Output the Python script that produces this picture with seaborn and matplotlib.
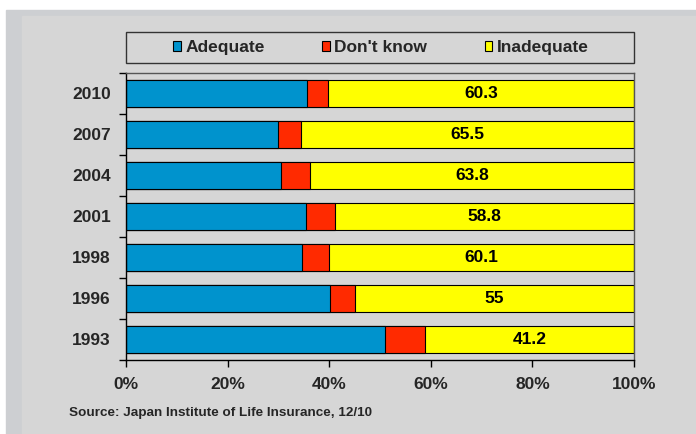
import matplotlib
matplotlib.use("Agg")
from matplotlib import pyplot as plt
from matplotlib.patches import Rectangle, Patch
import numpy as np
import pandas as pd
import seaborn as sns

years = ["2010", "2007", "2004", "2001", "1998", "1996", "1993"]
adequate = [35.6, 30.0, 30.6, 35.4, 34.6, 40.1, 50.9]
dont_know = [4.1, 4.5, 5.6, 5.8, 5.3, 4.9, 7.9]
inadequate = [60.3, 65.5, 63.8, 58.8, 60.1, 55, 41.2]
series = ["Adequate", "Don't know", "Inadequate"]
colors = ["#0093CD", "#FF2A00", "#FFFF00"]
x_ticks = [0, 20, 40, 60, 80, 100]
source = "Source: Japan Institute of Life Insurance, 12/10"

sns.set_theme(style="white")
plt.rcParams["font.family"] = ["Liberation Sans", "DejaVu Sans"]
plt.rcParams["font.weight"] = "bold"

df = pd.DataFrame({"year": years, "Adequate": adequate, "Don't know": dont_know, "Inadequate": inadequate})
df["c1"] = df["Adequate"]
df["c2"] = df["Adequate"] + df["Don't know"]
df["c3"] = df["c2"] + df["Inadequate"]

W, H = 696, 434
fig = plt.figure(figsize=(W / 100, H / 100), dpi=100, facecolor="white")
# grey backdrop like the slide
fig.patches.append(Rectangle((6 / W, 0), 1, 1 - 10 / H, transform=fig.transFigure, color="#cdcfd2", zorder=-3))
fig.patches.append(Rectangle((22 / W, 0), 1, 1 - 16 / H, transform=fig.transFigure, color="#d6d6d6", zorder=-2))

ax = fig.add_axes([126 / W, 1 - 360 / H, 508 / W, 287.3 / H])
ax.set_facecolor("#d6d6d6")

# stacked bars drawn as cumulative overlays
for col, color in zip(["c3", "c2", "c1"], colors[::-1]):
    sns.barplot(data=df, x=col, y="year", order=years, color=color, saturation=1,
                width=0.66, edgecolor="black", linewidth=0.8, ax=ax)

for i in range(len(years)):
    ax.text(df["c2"][i] + inadequate[i] / 2, i, f"{inadequate[i]:g}", ha="center", va="center",
            fontsize=12.5, fontweight="bold", color="black")

ax.set_xlim(0, 100)
ax.set_ylim(6.5, -0.5)
ax.set_xticks(x_ticks)
ax.set_xticklabels([f"{t}%" for t in x_ticks], fontsize=12.5, fontweight="bold")
ax.set_yticks(range(len(years)))
ax.set_yticklabels(years, fontsize=12.5, fontweight="bold")
ax.set_yticks(np.arange(-0.5, len(years), 1), minor=True)
ax.tick_params(axis="y", which="major", length=0, pad=11)
ax.tick_params(axis="y", which="minor", length=5, width=1, color="black", direction="out", left=True)
ax.tick_params(axis="x", which="major", length=5, width=1, color="black", direction="out", bottom=True, pad=7)
ax.set_xlabel("")
ax.set_ylabel("")
for side in ["left", "bottom"]:
    ax.spines[side].set_color("black")
    ax.spines[side].set_linewidth(1)
for side in ["top", "right"]:
    ax.spines[side].set_color("#555555")
    ax.spines[side].set_linewidth(1)

# legend box
fig.patches.append(Rectangle((126 / W, 1 - 63 / H), 508 / W, 31 / H, transform=fig.transFigure,
                             fill=False, edgecolor="#333333", linewidth=1))
handles = [Patch(facecolor=c, edgecolor="black", linewidth=0.8, label=s) for s, c in zip(series, colors)]
fig.legend(handles=handles, loc="center", bbox_to_anchor=(381 / W, 1 - 47.5 / H), ncol=3, frameon=False,
           prop={"size": 12.5, "weight": "bold"}, handlelength=0.45, handleheight=0.5,
           handletextpad=0.25, columnspacing=3.3)

fig.text(69 / W, 1 - 413 / H, source, fontsize=9.7, fontweight="bold", va="center", ha="left")

fig.savefig("out.png", dpi=100)
